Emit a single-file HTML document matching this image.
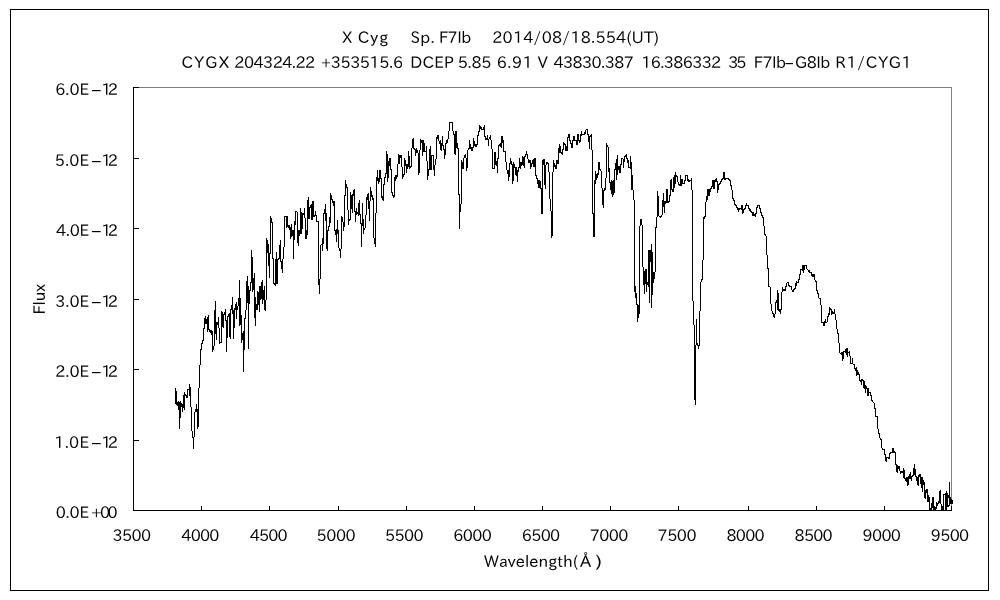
<!DOCTYPE html>
<html lang="ja"><head><meta charset="utf-8"><title>X Cyg Sp. F7Ib</title>
<style>
html,body{margin:0;padding:0;background:#fff;}
body{width:1000px;height:600px;overflow:hidden;position:relative;}
svg{position:absolute;left:0;top:0;display:block;}
text{font-family:"IPAPGothic","IPAGothic","Liberation Sans",sans-serif;font-size:16px;fill:#000;}
</style></head><body>
<svg width="1000" height="600" viewBox="0 0 1000 600">
<rect x="0" y="0" width="1000" height="600" fill="#fff"/>
<rect x="10.5" y="9.5" width="978" height="581" fill="none" stroke="#000" stroke-width="1" shape-rendering="crispEdges"/>
<g shape-rendering="crispEdges" stroke-width="1" fill="none">
<path d="M133 87.5H951.5V510" stroke="#808080"/>
<path d="M133.5 87V511M133 510.5H952" stroke="#000"/>
<path d="M133 510.5H139M133 440.5H139M133 369.5H139M133 299.5H139M133 228.5H139M133 158.5H139M133 87.5H139M133.5 506V511M201.5 506V511M269.5 506V511M338.5 506V511M406.5 506V511M474.5 506V511M542.5 506V511M610.5 506V511M678.5 506V511M748.5 506V511M816.5 506V511M884.5 506V511M951.5 506V511" stroke="#000"/>
<path d="M175.5 388V404M176.5 391V405M177.5 402V406M178.5 401V410M179.5 402V429M180.5 401V418M181.5 403V407M182.5 404V412M183.5 395V408M184.5 392V410M185.5 394V396M186.5 395V398M187.5 389V398M188.5 389V390M189.5 384V396M190.5 387V407M191.5 407V431M192.5 431V438M193.5 437V449M194.5 412V437M195.5 409V412M196.5 404V412M197.5 409V429M198.5 388V427M199.5 365V388M200.5 349V365M201.5 343V350M202.5 340V344M203.5 328V341M204.5 318V329M205.5 316V324M206.5 319V324M207.5 317V332M208.5 315V330M209.5 329V332M210.5 330V333M211.5 330V335M212.5 331V352M213.5 346V350M214.5 310V346M215.5 301V334M216.5 322V340M217.5 322V325M218.5 317V328M219.5 328V344M220.5 342V343M221.5 311V343M222.5 312V327M223.5 314V328M224.5 312V315M225.5 309V321M226.5 320V352M227.5 316V338M228.5 314V317M229.5 313V337M230.5 309V339M231.5 305V310M232.5 297V314M233.5 310V339M234.5 308V328M235.5 304V310M236.5 302V319M237.5 306V310M238.5 298V306M239.5 280V326M240.5 298V325M241.5 315V343M242.5 333V340M243.5 331V372M244.5 318V350M245.5 310V319M246.5 281V310M247.5 276V303M248.5 286V349M249.5 290V304M250.5 282V291M251.5 250V283M252.5 257V292M253.5 278V290M254.5 273V318M255.5 297V326M256.5 304V310M257.5 291V310M258.5 292V305M259.5 286V312M260.5 286V300M261.5 282V299M262.5 280V304M263.5 290V300M264.5 286V310M265.5 300V311M266.5 238V300M267.5 240V253M268.5 244V266M269.5 253V278M270.5 216V254M271.5 218V223M272.5 222V259M273.5 258V284M274.5 283V285M275.5 259V286M276.5 252V284M277.5 259V284M278.5 258V260M279.5 245V259M280.5 240V262M281.5 261V269M282.5 259V273M283.5 247V259M284.5 216V247M285.5 216V217M286.5 216V228M287.5 216V227M288.5 225V228M289.5 225V230M290.5 227V239M291.5 224V237M292.5 230V236M293.5 230V259M294.5 221V240M295.5 211V225M296.5 211V212M297.5 212V243M298.5 230V246M299.5 230V236M300.5 208V234M301.5 212V234M302.5 213V229M303.5 213V215M304.5 208V218M305.5 218V239M306.5 230V239M307.5 200V235M308.5 197V219M309.5 207V219M310.5 205V208M311.5 204V220M312.5 201V220M313.5 201V217M314.5 215V217M315.5 211V216M316.5 215V222M317.5 221V222M318.5 221V285M319.5 279V294M320.5 245V279M321.5 244V245M322.5 238V251M323.5 213V244M324.5 209V214M325.5 204V221M326.5 213V249M327.5 230V251M328.5 226V231M329.5 217V227M330.5 193V223M331.5 195V200M332.5 199V203M333.5 201V206M334.5 201V231M335.5 230V235M336.5 229V242M337.5 220V234M338.5 230V248M339.5 248V251M340.5 249V258M341.5 216V249M342.5 217V222M343.5 222V231M344.5 195V227M345.5 180V196M346.5 184V188M347.5 187V210M348.5 210V225M349.5 219V221M350.5 192V220M351.5 195V209M352.5 194V213M353.5 190V196M354.5 189V212M355.5 211V222M356.5 208V215M357.5 212V214M358.5 203V216M359.5 200V215M360.5 214V224M361.5 223V247M362.5 203V226M363.5 219V234M364.5 228V230M365.5 215V228M366.5 197V215M367.5 194V200M368.5 193V209M369.5 201V221M370.5 187V201M371.5 191V197M372.5 195V200M373.5 198V238M374.5 238V244M375.5 213V247M376.5 177V213M377.5 170V181M378.5 178V184M379.5 170V182M380.5 170V179M381.5 178V198M382.5 196V200M383.5 184V201M384.5 177V185M385.5 173V178M386.5 151V174M387.5 154V182M388.5 161V178M389.5 158V166M390.5 158V170M391.5 169V193M392.5 192V196M393.5 195V198M394.5 177V197M395.5 175V181M396.5 175V179M397.5 164V177M398.5 154V164M399.5 155V164M400.5 155V158M401.5 155V167M402.5 167V179M403.5 174V177M404.5 158V175M405.5 160V166M406.5 164V173M407.5 164V169M408.5 151V167M409.5 156V169M410.5 166V168M411.5 148V167M412.5 139V148M413.5 138V149M414.5 148V150M415.5 149V156M416.5 148V153M417.5 150V153M418.5 153V175M419.5 150V173M420.5 139V150M421.5 140V143M422.5 140V156M423.5 140V152M424.5 143V152M425.5 151V152M426.5 146V161M427.5 161V180M428.5 169V176M429.5 149V170M430.5 146V170M431.5 155V170M432.5 155V156M433.5 155V170M434.5 165V176M435.5 159V165M436.5 137V159M437.5 135V139M438.5 135V141M439.5 141V144M440.5 140V150M441.5 143V151M442.5 136V146M443.5 145V150M444.5 149V159M445.5 143V155M446.5 140V144M447.5 139V143M448.5 131V139M449.5 122V131M450.5 122V123M451.5 122V123M452.5 122V131M453.5 131V135M454.5 134V154M455.5 131V155M456.5 131V148M457.5 143V149M458.5 148V195M459.5 194V229M460.5 204V212M461.5 160V204M462.5 162V169M463.5 158V169M464.5 155V158M465.5 154V158M466.5 158V171M467.5 150V168M468.5 148V150M469.5 140V149M470.5 144V149M471.5 147V151M472.5 147V151M473.5 138V148M474.5 141V146M475.5 144V147M476.5 144V147M477.5 135V145M478.5 131V136M479.5 125V132M480.5 126V129M481.5 127V130M482.5 129V130M483.5 127V130M484.5 125V137M485.5 136V140M486.5 138V140M487.5 135V140M488.5 139V146M489.5 137V139M490.5 135V140M491.5 140V149M492.5 149V169M493.5 168V169M494.5 152V169M495.5 152V165M496.5 161V166M497.5 158V173M498.5 145V159M499.5 144V146M500.5 143V147M501.5 136V148M502.5 136V143M503.5 140V152M504.5 151V152M505.5 151V162M506.5 162V170M507.5 170V174M508.5 170V181M509.5 163V177M510.5 158V164M511.5 161V165M512.5 164V184M513.5 162V181M514.5 164V168M515.5 167V175M516.5 167V176M517.5 170V182M518.5 167V172M519.5 158V168M520.5 162V169M521.5 162V166M522.5 156V165M523.5 157V166M524.5 156V168M525.5 154V157M526.5 151V155M527.5 154V159M528.5 159V163M529.5 160V163M530.5 160V169M531.5 163V167M532.5 160V164M533.5 159V167M534.5 158V167M535.5 158V176M536.5 175V179M537.5 178V184M538.5 180V188M539.5 180V188M540.5 181V189M541.5 188V214M542.5 160V214M543.5 159V165M544.5 159V185M545.5 165V189M546.5 162V165M547.5 162V164M548.5 163V172M549.5 172V199M550.5 199V211M551.5 211V238M552.5 172V236M553.5 160V172M554.5 163V167M555.5 165V169M556.5 160V169M557.5 160V164M558.5 148V164M559.5 144V153M560.5 146V153M561.5 152V154M562.5 149V155M563.5 142V150M564.5 143V145M565.5 144V151M566.5 146V151M567.5 137V151M568.5 134V138M569.5 134V141M570.5 140V144M571.5 143V148M572.5 140V148M573.5 136V141M574.5 136V141M575.5 140V141M576.5 140V145M577.5 134V145M578.5 134V141M579.5 140V143M580.5 134V142M581.5 131V136M582.5 134V135M583.5 134V135M584.5 132V135M585.5 130V134M586.5 129V130M587.5 129V135M588.5 134V142M589.5 136V149M590.5 135V137M591.5 134V150M592.5 150V214M593.5 213V237M594.5 180V237M595.5 171V184M596.5 174V180M597.5 173V178M598.5 162V175M599.5 162V170M600.5 169V171M601.5 171V188M602.5 188V205M603.5 190V208M604.5 188V191M605.5 178V190M606.5 143V178M607.5 145V147M608.5 147V172M609.5 168V183M610.5 182V190M611.5 180V194M612.5 181V197M613.5 180V195M614.5 169V193M615.5 163V170M616.5 159V180M617.5 155V175M618.5 166V170M619.5 166V173M620.5 164V173M621.5 158V165M622.5 158V159M623.5 159V168M624.5 156V162M625.5 155V157M626.5 154V159M627.5 158V163M628.5 160V168M629.5 167V168M630.5 156V169M631.5 162V190M632.5 175V190M633.5 190V200M634.5 200V292M635.5 286V298M636.5 293V305M637.5 304V322M638.5 305V318M639.5 226V314M640.5 219V226M641.5 219V225M642.5 225V267M643.5 267V285M644.5 271V294M645.5 269V284M646.5 269V292M647.5 282V285M648.5 250V287M649.5 250V303M650.5 250V262M651.5 244V308M652.5 252V295M653.5 272V283M654.5 272V279M655.5 227V272M656.5 217V228M657.5 191V217M658.5 196V216M659.5 216V217M660.5 216V218M661.5 215V217M662.5 200V215M663.5 193V207M664.5 201V213M665.5 201V204M666.5 189V203M667.5 189V203M668.5 201V203M669.5 195V202M670.5 180V196M671.5 179V190M672.5 189V192M673.5 177V192M674.5 175V188M675.5 172V184M676.5 175V177M677.5 176V182M678.5 182V185M679.5 184V186M680.5 175V186M681.5 179V186M682.5 179V184M683.5 183V184M684.5 180V184M685.5 175V181M686.5 175V176M687.5 175V181M688.5 179V182M689.5 180V182M690.5 180V181M691.5 178V190M692.5 190V301M693.5 301V325M694.5 325V400M695.5 345V405M696.5 319V345M697.5 343V346M698.5 345V349M699.5 311V346M700.5 282V311M701.5 279V282M702.5 260V280M703.5 217V260M704.5 216V219M705.5 202V217M706.5 196V202M707.5 189V200M708.5 189V196M709.5 189V196M710.5 188V192M711.5 186V189M712.5 180V187M713.5 180V189M714.5 180V189M715.5 179V182M716.5 178V182M717.5 181V193M718.5 184V190M719.5 183V185M720.5 181V184M721.5 179V182M722.5 178V180M723.5 172V179M724.5 172V180M725.5 178V180M726.5 178V179M727.5 178V179M728.5 178V180M729.5 179V181M730.5 180V186M731.5 185V190M732.5 190V199M733.5 198V201M734.5 200V205M735.5 204V206M736.5 205V208M737.5 207V210M738.5 208V212M739.5 208V210M740.5 208V209M741.5 205V210M742.5 205V214M743.5 209V213M744.5 208V210M745.5 205V209M746.5 203V206M747.5 205V206M748.5 205V209M749.5 208V211M750.5 209V212M751.5 211V213M752.5 212V216M753.5 212V216M754.5 214V216M755.5 213V217M756.5 207V214M757.5 205V208M758.5 205V206M759.5 205V209M760.5 208V213M761.5 212V216M762.5 215V218M763.5 217V226M764.5 226V235M765.5 234V236M766.5 236V255M767.5 255V269M768.5 268V287M769.5 286V287M770.5 287V304M771.5 304V311M772.5 311V314M773.5 313V317M774.5 314V318M775.5 302V314M776.5 300V303M777.5 290V310M778.5 293V311M779.5 309V312M780.5 309V314M781.5 292V310M782.5 287V292M783.5 289V291M784.5 289V291M785.5 286V291M786.5 283V287M787.5 282V283M788.5 282V286M789.5 285V287M790.5 286V287M791.5 286V290M792.5 290V292M793.5 289V292M794.5 288V290M795.5 283V289M796.5 281V286M797.5 282V283M798.5 279V283M799.5 274V280M800.5 269V275M801.5 269V270M802.5 265V271M803.5 265V273M804.5 265V270M805.5 265V266M806.5 265V269M807.5 269V270M808.5 270V272M809.5 270V273M810.5 272V273M811.5 272V276M812.5 274V277M813.5 274V277M814.5 274V280M815.5 280V282M816.5 281V291M817.5 290V294M818.5 293V298M819.5 298V299M820.5 298V305M821.5 305V323M822.5 322V323M823.5 322V326M824.5 321V326M825.5 319V323M826.5 322V323M827.5 316V322M828.5 313V317M829.5 307V315M830.5 308V310M831.5 309V315M832.5 311V314M833.5 312V314M834.5 309V314M835.5 314V320M836.5 320V329M837.5 329V334M838.5 333V343M839.5 343V353M840.5 353V354M841.5 352V355M842.5 352V361M843.5 351V359M844.5 351V352M845.5 349V353M846.5 348V355M847.5 348V357M848.5 352V353M849.5 351V356M850.5 356V364M851.5 363V364M852.5 358V364M853.5 364V365M854.5 364V369M855.5 368V371M856.5 367V376M857.5 370V375M858.5 372V375M859.5 374V381M860.5 380V382M861.5 379V385M862.5 379V381M863.5 380V388M864.5 381V389M865.5 385V393M866.5 386V389M867.5 388V396M868.5 388V396M869.5 392V393M870.5 392V396M871.5 395V401M872.5 400V402M873.5 402V403M874.5 403V409M875.5 408V417M876.5 416V417M877.5 416V429M878.5 429V434M879.5 433V438M880.5 438V440M881.5 439V448M882.5 448V450M883.5 449V450M884.5 449V455M885.5 454V461M886.5 457V462M887.5 457V458M888.5 457V459M889.5 453V459M890.5 452V454M891.5 452V453M892.5 448V453M893.5 448V453M894.5 451V453M895.5 452V465M896.5 464V472M897.5 465V473M898.5 466V469M899.5 466V471M900.5 471V474M901.5 471V473M902.5 471V473M903.5 468V478M904.5 470V479M905.5 478V481M906.5 477V482M907.5 477V486M908.5 476V485M909.5 474V479M910.5 472V479M911.5 476V481M912.5 475V477M913.5 468V476M914.5 464V475M915.5 469V477M916.5 476V481M917.5 477V485M918.5 475V486M919.5 474V477M920.5 474V484M921.5 477V488M922.5 477V492M923.5 480V485M924.5 482V498M925.5 490V499M926.5 489V493M927.5 489V502M928.5 495V502M929.5 497V510M930.5 508V510M931.5 503V510M932.5 497V508M933.5 497V510M934.5 506V510M935.5 507V510M936.5 502V509M937.5 503V506M938.5 501V504M939.5 491V503M940.5 490V504M941.5 504V510M942.5 506V510M943.5 494V510M944.5 494V495M945.5 493V510M946.5 491V510M947.5 493V507M948.5 495V498M948.5 505V507M949.5 482V506M950.5 497V504M951.5 499V504M952.5 500V504" stroke="#000"/>
</g>
<g id="title1"><text id="a0" transform="translate(341.98 42.5) scale(0.951 1)">X</text> <text id="a1" x="357.71" y="42.5" textLength="30.41" lengthAdjust="spacing">Cyg</text> <text id="a2" x="410.43" y="42.5" textLength="24.35" lengthAdjust="spacing">Sp.</text> <text id="a3" x="438.96" y="42.5" textLength="32.33" lengthAdjust="spacing">F7Ib</text> <text id="a4" x="492.31" y="42.5" textLength="166.78" lengthAdjust="spacing">2014/08/18.554(UT)</text></g>
<g id="title2"><text id="b0" x="181.57" y="67.5" textLength="47.82" lengthAdjust="spacing">CYGX</text> <text id="b1" x="234.31" y="67.5" textLength="80.89" lengthAdjust="spacing">204324.22</text> <text id="b2" x="320.98" y="67.5" textLength="82.02" lengthAdjust="spacing">+353515.6</text> <text id="b3" x="410.17" y="67.5" textLength="43.77" lengthAdjust="spacing">DCEP</text> <text id="b4" x="457.83" y="67.5" textLength="33.42" lengthAdjust="spacing">5.85</text> <text id="b5" x="496.75" y="67.5" textLength="35.90" lengthAdjust="spacing">6.91</text> <text id="b6" transform="translate(537.81 67.5) scale(0.977 1)">V</text> <text id="b7" x="553.49" y="67.5" textLength="80.43" lengthAdjust="spacing">43830.387</text> <text id="b8" x="641.33" y="67.5" textLength="79.87" lengthAdjust="spacing">16.386332</text> <text id="b9" x="728.33" y="67.5" textLength="18.07" lengthAdjust="spacing">35</text> <text id="b10" x="753.86" y="67.5" textLength="32.14" lengthAdjust="spacing">F7Ib</text><text id="mh" transform="translate(784 67.5) scale(1.83 1)">-</text><text id="b11" x="795.10" y="67.5" textLength="35.20" lengthAdjust="spacing">G8Ib</text> <text id="b12" x="835.37" y="67.5" textLength="76.19" lengthAdjust="spacing">R1/CYG1</text></g>
<g><text id="y6m" x="55.15" y="94.5" textLength="33.80" lengthAdjust="spacing">6.0E</text><text id="m6" transform="translate(90.2 94.5) scale(2.12 1)">-</text><text id="y6e" x="101.23" y="94.5" textLength="16.72" lengthAdjust="spacing">12</text></g>
<g><text id="y5m" x="54.83" y="165.5" textLength="34.12" lengthAdjust="spacing">5.0E</text><text id="m5" transform="translate(90.2 165.5) scale(2.12 1)">-</text><text id="y5e" x="101.23" y="165.5" textLength="16.72" lengthAdjust="spacing">12</text></g>
<g><text id="y4m" x="55.91" y="235.5" textLength="33.04" lengthAdjust="spacing">4.0E</text><text id="m4" transform="translate(90.2 235.5) scale(2.12 1)">-</text><text id="y4e" x="101.23" y="235.5" textLength="16.72" lengthAdjust="spacing">12</text></g>
<g><text id="y3m" x="55.14" y="306.5" textLength="33.82" lengthAdjust="spacing">3.0E</text><text id="m3" transform="translate(90.2 306.5) scale(2.12 1)">-</text><text id="y3e" x="101.23" y="306.5" textLength="16.72" lengthAdjust="spacing">12</text></g>
<g><text id="y2m" x="55.31" y="376.5" textLength="33.64" lengthAdjust="spacing">2.0E</text><text id="m2" transform="translate(90.2 376.5) scale(2.12 1)">-</text><text id="y2e" x="101.23" y="376.5" textLength="16.72" lengthAdjust="spacing">12</text></g>
<g><text id="y1m" x="54.33" y="447.5" textLength="34.62" lengthAdjust="spacing">1.0E</text><text id="m1" transform="translate(90.2 447.5) scale(2.12 1)">-</text><text id="y1e" x="101.23" y="447.5" textLength="16.72" lengthAdjust="spacing">12</text></g>
<g><text id="y0m" x="55.70" y="517.5" textLength="33.25" lengthAdjust="spacing">0.0E</text><text id="y0s" transform="translate(91.09 517.5) scale(1.065 1)">+</text><text id="y0e" x="100.00" y="517.5" textLength="17.70" lengthAdjust="spacing">00</text></g>
<g id="ytitle"><text id="fl" transform="translate(45 314.5) rotate(-90)" textLength="30.5" lengthAdjust="spacing">Flux</text></g>
<g id="xlabels"><text id="x0" x="112.58" y="540.5" textLength="38.62" lengthAdjust="spacing">3500</text> <text id="x1" x="181.37" y="540.5" textLength="37.96" lengthAdjust="spacing">4000</text> <text id="x2" x="249.65" y="540.5" textLength="37.83" lengthAdjust="spacing">4500</text> <text id="x3" x="316.60" y="540.5" textLength="39.02" lengthAdjust="spacing">5000</text> <text id="x4" x="384.92" y="540.5" textLength="38.75" lengthAdjust="spacing">5500</text> <text id="x5" x="453.37" y="540.5" textLength="38.57" lengthAdjust="spacing">6000</text> <text id="x6" x="521.69" y="540.5" textLength="38.51" lengthAdjust="spacing">6500</text> <text id="x7" x="589.75" y="540.5" textLength="38.58" lengthAdjust="spacing">7000</text> <text id="x8" x="657.60" y="540.5" textLength="38.87" lengthAdjust="spacing">7500</text> <text id="x9" x="726.39" y="540.5" textLength="38.23" lengthAdjust="spacing">8000</text> <text id="x10" x="794.52" y="540.5" textLength="38.15" lengthAdjust="spacing">8500</text> <text id="x11" x="862.59" y="540.5" textLength="38.35" lengthAdjust="spacing">9000</text> <text id="x12" x="930.71" y="540.5" textLength="38.49" lengthAdjust="spacing">9500</text></g>
<g id="xtitle"><text id="wl" x="483.96" y="566.5" textLength="94.15" lengthAdjust="spacing">Wavelength(</text><text id="wa" transform="translate(580.05 566.5) scale(1.095 1)">Å</text><text id="wp" transform="translate(595.44 566.5) scale(1.250 1)">)</text></g>
</svg></body></html>
